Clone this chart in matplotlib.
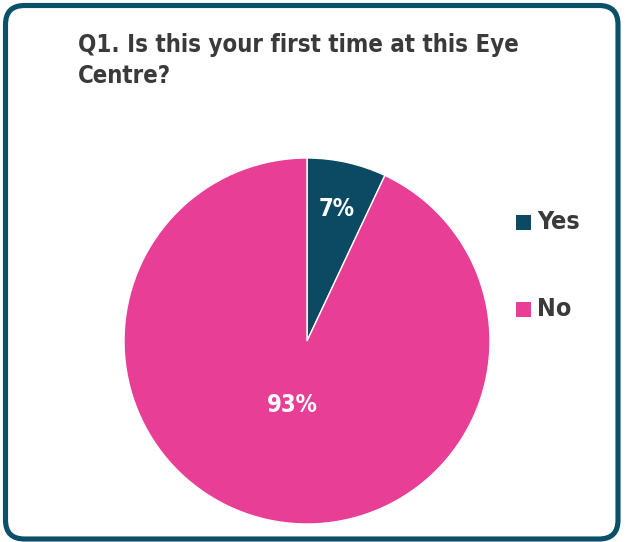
import numpy as np
import matplotlib.pyplot as plt
from matplotlib.patches import FancyBboxPatch, Rectangle

categories = ["Yes", "No"]
values = [7, 93]
colors = ["#0C4A63", "#E83E96"]
title_lines = ["Q1. Is this your first time at this Eye", "Centre?"]

W, H = 625, 542
FONT = dict(family="DejaVu Sans", stretch="condensed", weight="bold")
fig = plt.figure(figsize=(W / 100, H / 100), dpi=100)
fig.patch.set_facecolor("white")

# pixel-space overlay for the rounded frame
bg = fig.add_axes([0, 0, 1, 1], zorder=5)
bg.set_xlim(0, W)
bg.set_ylim(H, 0)
bg.axis("off")
bg.patch.set_alpha(0)
bg.add_patch(FancyBboxPatch((5.5, 5.5), 612.5, 533.5,
                            boxstyle="round,pad=0,rounding_size=19",
                            facecolor="none", edgecolor="#0B5069",
                            linewidth=3.7, clip_on=False))

# title, one baseline per line
for line, base in zip(title_lines, [52, 83]):
    fig.text(78 / W, 1 - base / H, line, ha="left", va="baseline",
             fontsize=17.2, color="#3A3A3A", **FONT)

# pie axes: centre (307, 341), radius 183 px
r = 183
cx, cy = 307, 341
ax = fig.add_axes([(cx - r) / W, 1 - (cy + r) / H, 2 * r / W, 2 * r / H])
wedges, texts = ax.pie(values, colors=colors, startangle=90,
                       counterclock=False, radius=1,
                       wedgeprops=dict(linewidth=1, edgecolor="white"))

# percentage labels, placed along each wedge's mid angle
label_dist = [0.74, 0.36]
for w, v, d in zip(wedges, values, label_dist):
    mid = np.deg2rad((w.theta1 + w.theta2) / 2)
    ax.text(d * np.cos(mid), d * np.sin(mid), f"{v}%", ha="center",
            va="center", color="white", fontsize=17, **FONT)
ax.set_xlim(-1, 1)
ax.set_ylim(-1, 1)
ax.set_aspect("equal")
ax.axis("off")

# legend
leg_y = [222.5, 309.5]
for cat, col, y in zip(categories, colors, leg_y):
    fig.patches.append(Rectangle((516 / W, 1 - (y + 7.5) / H), 15 / W, 15 / H,
                                 transform=fig.transFigure, facecolor=col,
                                 edgecolor="none"))
    fig.text(537 / W, 1 - y / H, cat, ha="left", va="center", fontsize=18,
             color="#3A3A3A", **FONT)

fig.savefig("out.png", dpi=100, facecolor="white")
